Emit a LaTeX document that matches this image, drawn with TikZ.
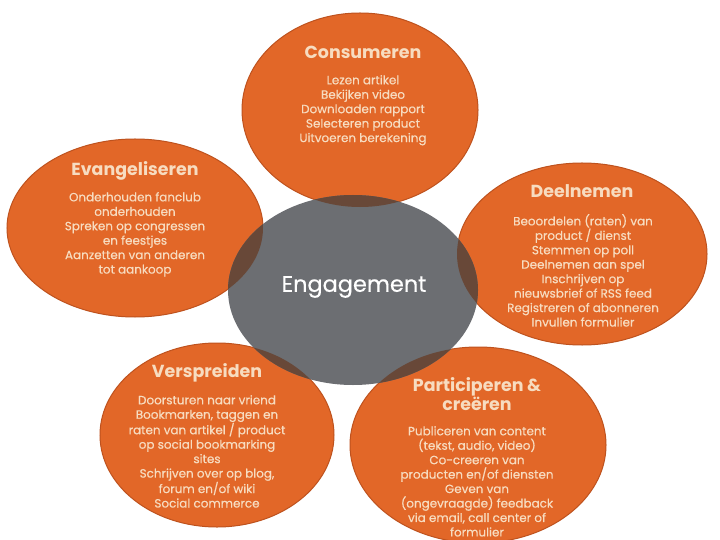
\documentclass[tikz,border=0pt]{standalone}
\usepackage{fontspec}
\setmainfont{Poppins}
\newfontfamily\bodyfont[FakeBold=0.5]{Poppins}
\definecolor{orng}{RGB}{226,103,40}
\definecolor{orngedge}{RGB}{190,82,30}
\definecolor{grey}{RGB}{108,110,114}
\definecolor{ovl}{RGB}{104,72,56}
\definecolor{txt}{RGB}{247,220,192}
\begin{document}
\begin{tikzpicture}[x=1bp,y=-1bp,
  petal/.style={fill=orng,draw=orngedge,line width=1bp},
  ttl/.style={text=txt,font=\fontsize{17.5}{18}\selectfont\bfseries,align=center,inner sep=0},
  body/.style={text=txt,font=\bodyfont\fontsize{12}{14.5}\selectfont,align=center,inner sep=0,anchor=north}]
\useasboundingbox (0,0) rectangle (720,540);
\fill[white] (0,0) rectangle (720,540);
% petals
\path[petal] (360,110) ellipse [x radius=118bp, y radius=97bp];
\path[petal] (135,228) ellipse [x radius=128bp, y radius=89bp];
\path[petal] (582,254) ellipse [x radius=125bp, y radius=91bp];
\path[petal] (217,435) ellipse [x radius=117bp, y radius=92bp];
\path[petal] (478,445) ellipse [x radius=128bp, y radius=98bp];
% centre
\fill[grey] (353,290) ellipse [x radius=125bp, y radius=95bp];
\begin{scope}
\clip (353,290) ellipse [x radius=125bp, y radius=95bp];
\fill[ovl] (360,110) ellipse [x radius=118bp, y radius=97bp];
\fill[ovl] (135,228) ellipse [x radius=128bp, y radius=89bp];
\fill[ovl] (582,254) ellipse [x radius=125bp, y radius=91bp];
\fill[ovl] (217,435) ellipse [x radius=117bp, y radius=92bp];
\fill[ovl] (478,445) ellipse [x radius=128bp, y radius=98bp];
\end{scope}
\node[text=white,font=\bodyfont\fontsize{22.5}{24}\selectfont,inner sep=0] (eng) at (354,287) {Engagement};
% Consumeren
\node[ttl] (t1) at (363,52) {Consumeren};
\node[body] (b1) at (363,75) {Lezen artikel\\Bekijken video\\Downloaden rapport\\Selecteren product\\Uitvoeren berekening};
% Evangeliseren
\node[ttl] (t2) at (135,171) {Evangeliseren};
\node[body] (b2) at (135,192) {Onderhouden fanclub\\onderhouden\\Spreken op congressen\\en feestjes\\Aanzetten van anderen\\tot aankoop};
% Deelnemen
\node[ttl] (t3) at (582,191) {Deelnemen};
\node[body] (b3) at (583,214) {Beoordelen (raten) van\\product / dienst\\Stemmen op poll\\Deelnemen aan spel\\Inschrijven op\\nieuwsbrief of RSS feed\\Registreren of abonneren\\Invullen formulier};
% Verspreiden
\node[ttl] (t4) at (207,373) {Verspreiden};
\node[body] (b4) at (207,395) {Doorsturen naar vriend\\Bookmarken, taggen en\\raten van artikel / product\\op social bookmarking\\sites\\Schrijven over op blog,\\forum en/of wiki\\Social commerce};
% Participeren
\node[ttl] (t5) at (477,394) {Participeren \&\\creëren};
\node[body] (b5) at (477,426) {Publiceren van content\\(tekst, audio, video)\\Co-creeren van\\producten en/of diensten\\Geven van\\(ongevraagde) feedback\\via email, call center of\\formulier};
\end{tikzpicture}
\end{document}
